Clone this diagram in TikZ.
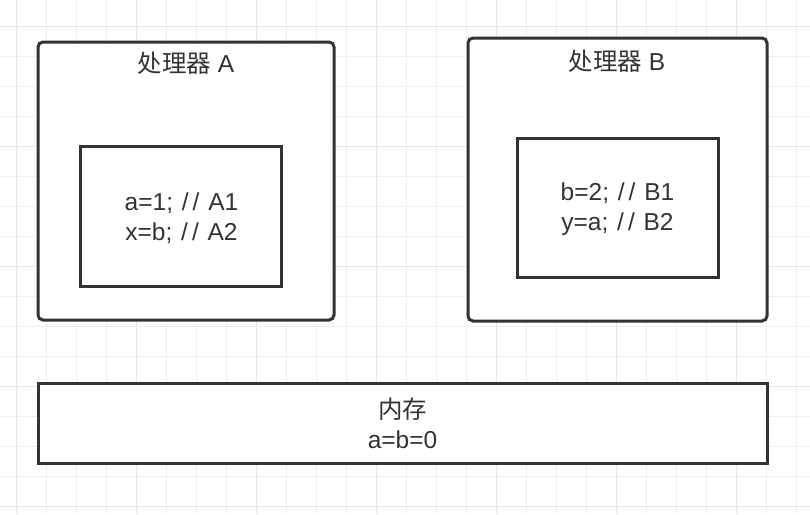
\documentclass[tikz,border=0pt]{standalone}
\usepackage{fontspec}
\setmainfont{Liberation Sans}
\newfontfamily\cjk{Noto Sans CJK SC}
\definecolor{ink}{HTML}{333333}
\definecolor{gridminor}{HTML}{EFEFEF}
\definecolor{gridmajor}{HTML}{E6E6E6}
\newcommand{\slsl}{\kern2pt/\kern4pt/\kern2pt}
\begin{document}
\begin{tikzpicture}[x=1pt,y=-1pt,
  outerbox/.style={draw=ink,line width=3pt,rounded corners=5pt,fill=white,inner sep=0pt,outer sep=0pt},
  innerbox/.style={draw=ink,line width=3pt,fill=white,inner sep=0pt,outer sep=0pt},
  lbl/.style={text=ink,font=\fontsize{24.5}{30}\selectfont,align=center,inner sep=0pt}]
\useasboundingbox (0,0) rectangle (810,514);
\fill[white] (0,0) rectangle (810,514);
% grid
\foreach \i in {0,...,26} {
  \pgfmathsetmacro{\xx}{16.7+30*\i}
  \pgfmathtruncatemacro{\m}{mod(\i,4)}
  \ifnum\m=0 \draw[gridmajor,line width=1.2pt] (\xx,0) -- (\xx,514);
  \else \draw[gridminor,line width=1pt] (\xx,0) -- (\xx,514); \fi
}
\foreach \i in {0,...,16} {
  \pgfmathsetmacro{\yy}{26.7+30*\i}
  \pgfmathtruncatemacro{\m}{mod(\i,4)}
  \ifnum\m=0 \draw[gridmajor,line width=1.2pt] (0,\yy) -- (810,\yy);
  \else \draw[gridminor,line width=1pt] (0,\yy) -- (810,\yy); \fi
}
% processor A
\node[outerbox,minimum width=296pt,minimum height=278pt] (boxA) at (186,181) {};
\node[lbl] (titleA) at (186,63) {{\cjk 处理器} A};
\node[innerbox,minimum width=201pt,minimum height=140pt] (innerA) at (180.5,216) {};
\node[lbl] (codeA) at (181.5,218) {a=1; \slsl\ A1\\x=b; \slsl\ A2};
% processor B
\node[outerbox,minimum width=299pt,minimum height=283pt] (boxB) at (617.5,179.5) {};
\node[lbl] (titleB) at (617,61) {{\cjk 处理器} B};
\node[innerbox,minimum width=201pt,minimum height=139pt] (innerB) at (617.5,207.5) {};
\node[lbl] (codeB) at (617.5,209) {b=2; \slsl\ B1\\y=a; \slsl\ B2};
% memory
\node[innerbox,minimum width=729pt,minimum height=80pt] (memBox) at (402.5,423) {};
\node[lbl] (mem) at (402.5,423.5) {{\cjk 内存}\\a=b=0};
\end{tikzpicture}
\end{document}
